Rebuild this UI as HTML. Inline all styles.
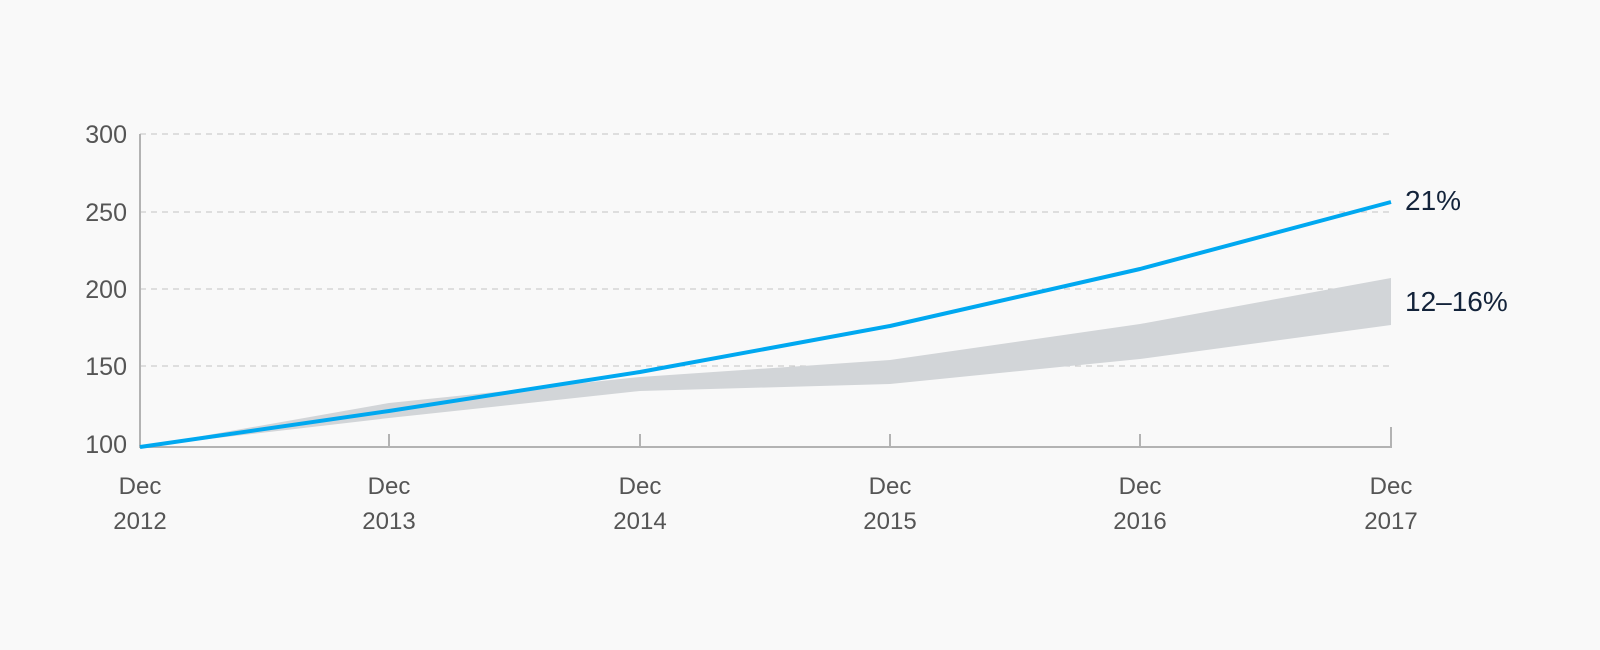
<!DOCTYPE html>
<html><head><meta charset="utf-8"><style>
html,body{margin:0;padding:0;background:#f9f9f9;}
svg{display:block;font-family:"Liberation Sans",sans-serif;}
</style></head><body>
<svg width="1600" height="650" viewBox="0 0 1600 650">
<rect width="1600" height="650" fill="#f9f9f9"/>
<g stroke="#c4c4c4" stroke-width="1" stroke-dasharray="6,5">
<line x1="140" y1="134" x2="1391" y2="134"/>
<line x1="140" y1="212" x2="1391" y2="212"/>
<line x1="140" y1="289" x2="1391" y2="289"/>
<line x1="140" y1="366" x2="1391" y2="366"/>
</g>
<polygon fill="#d2d5d8" points="140,447 389,403 640,377 890,360 1140,324 1391,278 1391,325 1140,359 890,384 640,391 389,418"/>
<g stroke="#b3b3b3" stroke-width="2" fill="none">
<line x1="140" y1="134" x2="140" y2="447"/>
<line x1="139" y1="447" x2="1392" y2="447"/>
<line x1="389" y1="434" x2="389" y2="447"/>
<line x1="640" y1="434" x2="640" y2="447"/>
<line x1="890" y1="434" x2="890" y2="447"/>
<line x1="1140" y1="434" x2="1140" y2="447"/>
<line x1="1391" y1="427" x2="1391" y2="447"/>
</g>
<polyline fill="none" stroke="#00a8f0" stroke-width="4" stroke-linejoin="round" points="140,447 389,411 640,372 890,326 1140,269 1391,202"/>
<g fill="#555" font-size="25" text-anchor="end">
<text x="127" y="143">300</text>
<text x="127" y="221">250</text>
<text x="127" y="298">200</text>
<text x="127" y="375">150</text>
<text x="127" y="453">100</text>
</g>
<g fill="#555" font-size="24" text-anchor="middle">
<text x="140" y="494">Dec</text><text x="140" y="529">2012</text>
<text x="389" y="494">Dec</text><text x="389" y="529">2013</text>
<text x="640" y="494">Dec</text><text x="640" y="529">2014</text>
<text x="890" y="494">Dec</text><text x="890" y="529">2015</text>
<text x="1140" y="494">Dec</text><text x="1140" y="529">2016</text>
<text x="1391" y="494">Dec</text><text x="1391" y="529">2017</text>
</g>
<g fill="#13233a" font-size="28">
<text x="1405" y="210">21%</text>
<text x="1405" y="311">12–16%</text>
</g>
</svg>
</body></html>
